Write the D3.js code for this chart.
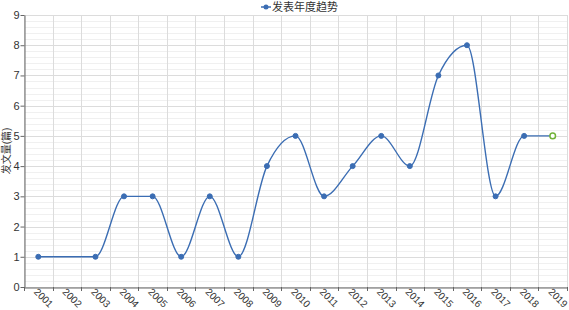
<!DOCTYPE html>
<html>
<head>
<meta charset="utf-8">
<script src="https://cdn.jsdelivr.net/npm/d3@7"></script>
<style>
body { margin: 0; background: #fff; }
text { font-family: "Liberation Sans", Arial, "Noto Sans CJK SC", sans-serif; }
</style>
</head>
<body>
<script>
const w = 569;
const h = 310;
const margin = { top: 15, right: 2, bottom: 23, left: 24 };

const years = ["2001", "2002", "2003", "2004", "2005", "2006", "2007", "2008", "2009", "2010",
    "2011", "2012", "2013", "2014", "2015", "2016", "2017", "2018", "2019"];
const counts = [1, null, 1, 3, 3, 1, 3, 1, 4, 5, 3, 4, 5, 4, 7, 8, 3, 5, 5];
const yTicks = [0, 1, 2, 3, 4, 5, 6, 7, 8, 9];
const seriesName = "发表年度趋势";
const yTitle = "发文量(篇)";

const lineColor = "#3b6db3";
const forecastColor = "#71b23a";

const svg = d3.select("body").append("svg").attr("width", w).attr("height", h);

const xScale = d3.scaleBand()
    .domain(years)
    .range([margin.left, w - margin.right]);

const yScale = d3.scaleLinear()
    .domain([0, 9])
    .range([h - margin.bottom, margin.top]);

// minor horizontal grid
const minor = d3.range(0, 9, 0.2).filter(function (v) { return Math.abs(v - Math.round(v)) > 0.01; });
svg.append("g")
    .selectAll("line")
    .data(minor)
    .enter()
    .append("line")
    .attr("x1", margin.left)
    .attr("x2", w - margin.right)
    .attr("y1", function (d) { return Math.round(yScale(d)) + 0.5; })
    .attr("y2", function (d) { return Math.round(yScale(d)) + 0.5; })
    .attr("stroke", "#f0f0f0");

// major horizontal grid
svg.append("g")
    .selectAll("line")
    .data(yTicks)
    .enter()
    .append("line")
    .attr("x1", margin.left)
    .attr("x2", w - margin.right)
    .attr("y1", function (d) { return Math.round(yScale(d)) + 0.5; })
    .attr("y2", function (d) { return Math.round(yScale(d)) + 0.5; })
    .attr("stroke", "#dcdcdc");

// vertical grid at band edges
const edges = years.map(function (d) { return xScale(d); }).concat([w - margin.right]);
svg.append("g")
    .selectAll("line")
    .data(edges)
    .enter()
    .append("line")
    .attr("x1", function (d) { return Math.round(d) + 0.5; })
    .attr("x2", function (d) { return Math.round(d) + 0.5; })
    .attr("y1", margin.top)
    .attr("y2", h - margin.bottom)
    .attr("stroke", "#dcdcdc");

// y axis
const yAxis = svg.append("g")
    .attr("transform", "translate(" + (margin.left + 0.5) + ",0)")
    .call(d3.axisLeft(yScale).tickValues(yTicks).tickSize(4).tickSizeOuter(0));
yAxis.select(".domain").attr("stroke", "#666");
yAxis.selectAll(".tick line").attr("stroke", "#666");
yAxis.selectAll("text").attr("font-size", 11).attr("fill", "#333").attr("x", -5);

// x axis
const xAxis = svg.append("g")
    .attr("transform", "translate(0," + (h - margin.bottom + 0.5) + ")")
    .call(d3.axisBottom(xScale).tickSize(0).tickSizeOuter(0));
xAxis.select(".domain").attr("stroke", "#666");
xAxis.selectAll(".tick text")
    .attr("font-size", 10)
    .attr("fill", "#333")
    .attr("y", 0)
    .attr("dy", 0)
    .attr("transform", "translate(-5,5) rotate(45)")
    .style("text-anchor", "start");
svg.append("g")
    .selectAll("line")
    .data(edges)
    .enter()
    .append("line")
    .attr("x1", function (d) { return Math.round(d) + 0.5; })
    .attr("x2", function (d) { return Math.round(d) + 0.5; })
    .attr("y1", h - margin.bottom)
    .attr("y2", h - margin.bottom + 4)
    .attr("stroke", "#666");

// y title
svg.append("text")
    .attr("transform", "translate(10," + ((margin.top + h - margin.bottom) / 2) + ") rotate(-90)")
    .attr("text-anchor", "middle")
    .attr("font-size", 10)
    .attr("fill", "#333")
    .text(yTitle);

// data
const points = years.map(function (y, i) { return { year: y, value: counts[i] }; })
    .filter(function (d) { return d.value !== null; });

const line = d3.line()
    .x(function (d) { return xScale(d.year) + xScale.bandwidth() / 2; })
    .y(function (d) { return yScale(d.value); })
    .curve(d3.curveMonotoneX);

svg.append("path")
    .datum(points)
    .attr("d", line)
    .attr("fill", "none")
    .attr("stroke", lineColor)
    .attr("stroke-width", 1.4);

svg.append("g")
    .selectAll("circle")
    .data(points)
    .enter()
    .append("circle")
    .attr("cx", function (d) { return xScale(d.year) + xScale.bandwidth() / 2; })
    .attr("cy", function (d) { return yScale(d.value); })
    .attr("r", function (d, i) { return i === points.length - 1 ? 2.8 : 2.5; })
    .attr("fill", function (d, i) { return i === points.length - 1 ? "#fff" : lineColor; })
    .attr("stroke", function (d, i) { return i === points.length - 1 ? forecastColor : lineColor; })
    .attr("stroke-width", function (d, i) { return i === points.length - 1 ? 1.5 : 1; });

// legend
const legend = svg.append("g").attr("transform", "translate(261,7)");
legend.append("line").attr("x1", 0).attr("x2", 10).attr("y1", 0).attr("y2", 0)
    .attr("stroke", lineColor).attr("stroke-width", 1.5);
legend.append("circle").attr("cx", 5).attr("cy", 0).attr("r", 2.5).attr("fill", lineColor);
legend.append("text").attr("x", 11).attr("y", 4).attr("font-size", 11).attr("fill", "#333")
    .text(seriesName);
</script>
</body>
</html>
